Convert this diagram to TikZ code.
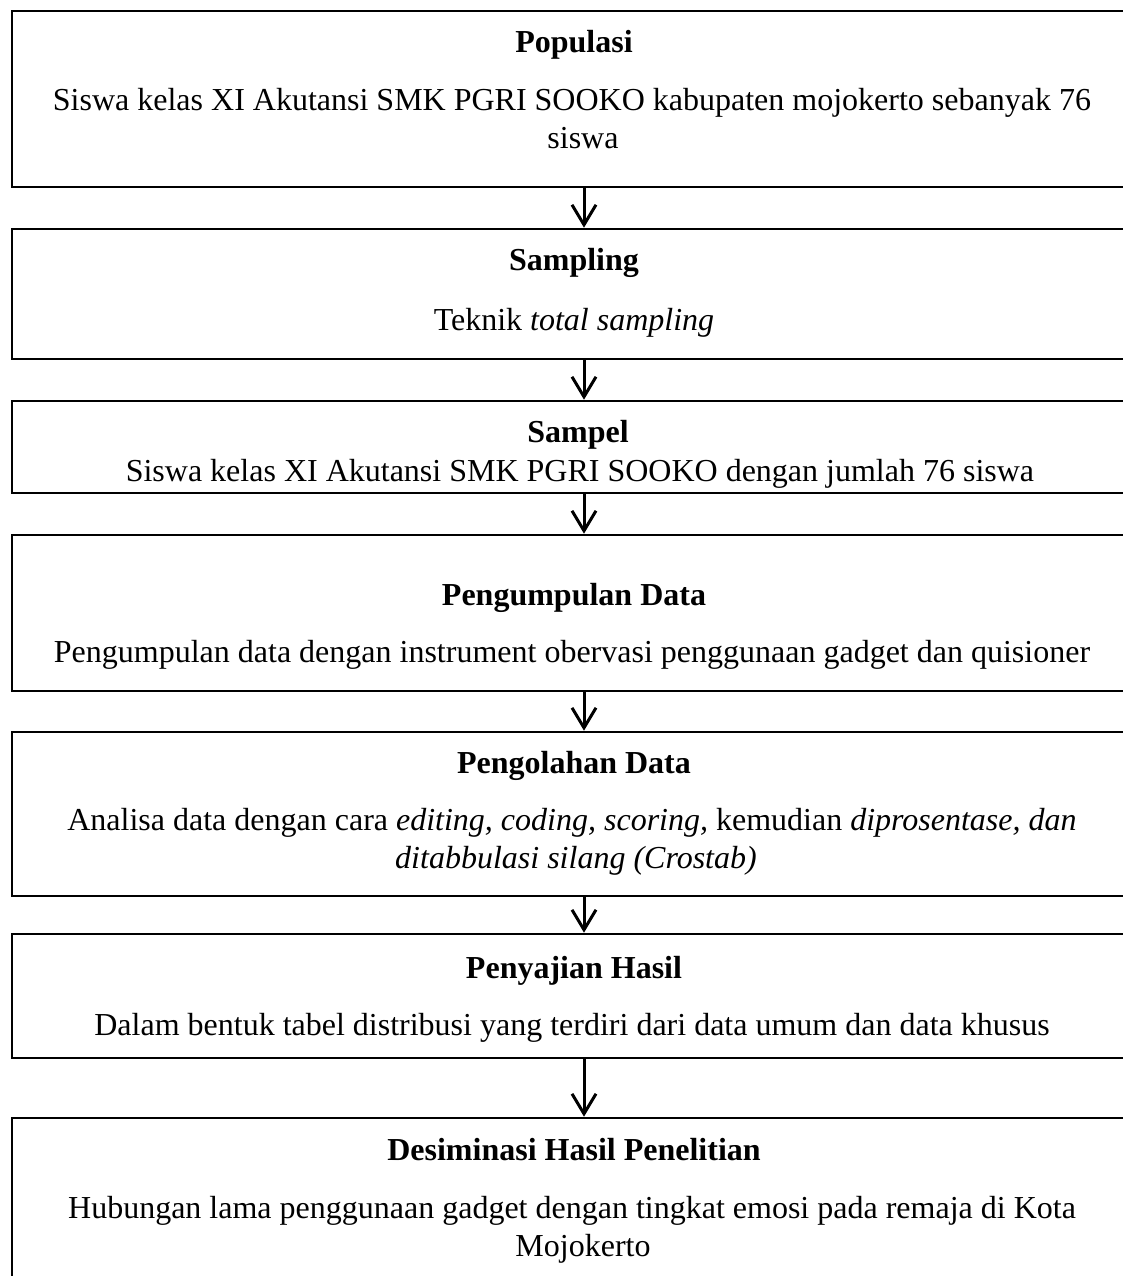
\documentclass[tikz,border=0pt]{standalone}
\usepackage{fontspec}
\setmainfont{Liberation Serif}
\usetikzlibrary{arrows.meta}
\begin{document}
\begin{tikzpicture}[x=0.5pt,y=-0.5pt,
  box/.style={draw=black, line width=1.3pt, minimum width=572pt, inner sep=0pt, rectangle},
  ttl/.style={anchor=base, font=\fontsize{16}{19}\selectfont\bfseries, inner sep=0pt},
  txt/.style={anchor=base, align=center, font=\fontsize{16}{19}\selectfont, inner sep=0pt},
  flow/.style={line width=1.5pt, -{Straight Barb[length=10pt,width=12pt,line width=1.5pt]}}]
\useasboundingbox (0,0) rectangle (1123,1276);
\clip (0,0) rectangle (1123,1276);
% boxes
\node[box, minimum height=88pt] (b1) at (584,99) {};
\node[box, minimum height=65pt] (b2) at (584,294) {};
\node[box, minimum height=46pt] (b3) at (584,447) {};
\node[box, minimum height=78pt] (b4) at (584,613) {};
\node[box, minimum height=82pt] (b5) at (584,814) {};
\node[box, minimum height=62pt] (b6) at (584,996) {};
\node[box, minimum height=91pt] (b7) at (584,1209) {};
% titles
\node[ttl] (t1) at (574,52) {Populasi};
\node[ttl] (t2) at (574,270) {Sampling};
\node[ttl] (t3) at (578,442) {Sampel};
\node[ttl] (t4) at (574,605) {Pengumpulan Data};
\node[ttl] (t5) at (574,773) {Pengolahan Data};
\node[ttl] (t6) at (574,978) {Penyajian Hasil};
\node[ttl] (t7) at (574,1160) {Desiminasi Hasil Penelitian};
% texts (multi-line nodes: base anchor is the last line's baseline)
\node[txt] (x1) at (572,148) {Siswa kelas XI Akutansi SMK PGRI SOOKO kabupaten mojokerto sebanyak 76\\\hspace*{11pt}siswa};
\node[txt] (x2) at (574,330) {Teknik \textit{total sampling}};
\node[txt] (x3) at (580,481) {Siswa kelas XI Akutansi SMK PGRI SOOKO dengan jumlah 76 siswa};
\node[txt] (x4) at (572,662) {Pengumpulan data dengan instrument obervasi penggunaan gadget dan quisioner};
\node[txt] (x5) at (572,868) {Analisa data dengan cara \textit{editing, coding, scoring,} kemudian \textit{diprosentase, dan}\\\hspace*{4pt}\textit{ditabbulasi silang (Crostab)}};
\node[txt] (x6) at (572,1035) {Dalam bentuk tabel distribusi yang terdiri dari data umum dan data khusus};
\node[txt] (x7) at (572,1256) {Hubungan lama penggunaan gadget dengan tingkat emosi pada remaja di Kota\\\hspace*{11pt}Mojokerto};
% connectors
\draw[flow] (b1.south) -- (b2.north);
\draw[flow] (b2.south) -- (b3.north);
\draw[flow] (b3.south) -- (b4.north);
\draw[flow] (b4.south) -- (b5.north);
\draw[flow] (b5.south) -- (b6.north);
\draw[flow] (b6.south) -- (b7.north);
\end{tikzpicture}
\end{document}
